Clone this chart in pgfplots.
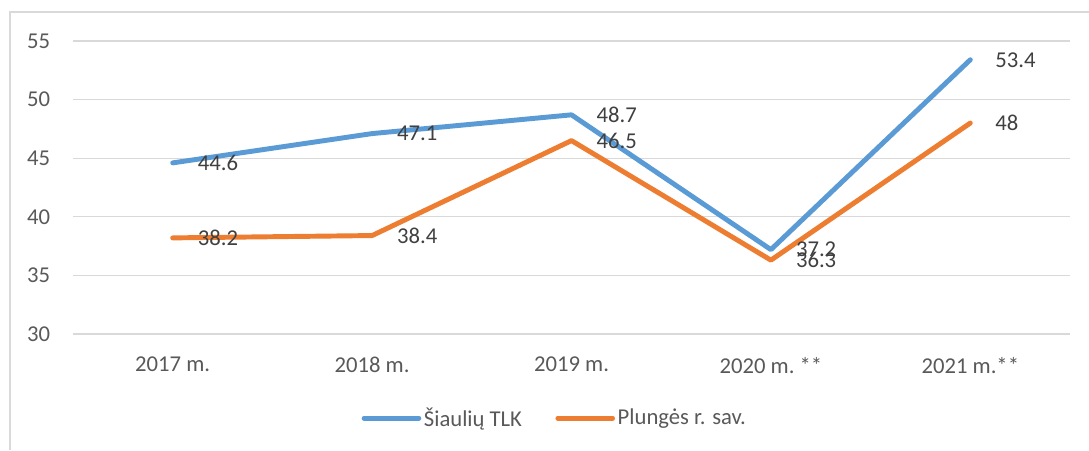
\documentclass[border=0pt]{standalone}
\usepackage{pgfplots}
\pgfplotsset{compat=1.18}
\usepackage{fontspec}
\setmainfont{Carlito}
\definecolor{sblue}{HTML}{5B9BD5}
\definecolor{sorange}{HTML}{ED7D31}
\definecolor{gridc}{HTML}{D9D9D9}
\definecolor{txt}{HTML}{595959}
\definecolor{lbl}{HTML}{404040}
\begin{document}
\begin{tikzpicture}[font=\fontsize{17}{20}\selectfont]
\path[use as bounding box] (0,0) rectangle (816.75pt,337.5pt);
\draw[gridc, line width=0.9pt] (7.5pt,0pt) -- (7.5pt,328.5pt) -- (816.75pt,328.5pt);
\begin{axis}[
  at={(54.75pt,87pt)}, anchor=south west,
  scale only axis, width=747.75pt, height=219.75pt,
  xmin=-0.5, xmax=4.5, ymin=30, ymax=55,
  xtick={0,1,2,3,4},
  xticklabels={2017 m., 2018 m., 2019 m., {2020 m.\ **}, 2021 m.**},
  ytick={30,35,40,45,50,55},
  axis line style={draw=none},
  tick style={draw=none},
  ymajorgrids, grid style={gridc, line width=0.9pt},
  tick label style={text=txt, font=\fontsize{17}{20}\selectfont},
  /pgf/number format/assume math mode=true,
  yticklabel style={inner sep=0pt, anchor=east, xshift=-17pt},
  xticklabel style={inner sep=0pt, anchor=north, yshift=-17pt},
  clip=false,
  nodes near coords, point meta=explicit symbolic,
  every node near coord/.append style={anchor=west, inner sep=0pt, xshift=17pt, yshift=0pt, text=lbl, font=\fontsize{17}{20}\selectfont},
  legend style={draw=none, fill=none, at={(0.4835,-0.287)}, anchor=center,
    legend columns=2, font=\fontsize{17}{20}\selectfont, text=txt,
    /tikz/every even column/.append style={column sep=23pt},
    nodes={inner sep=2pt}},
  legend image code/.code={\draw[#1, line cap=round] (0pt,0pt) -- (41pt,0pt);},
]
\addplot[sblue, line width=3.7pt, line join=round, line cap=round] coordinates {
  (0,44.6) [44.6]
  (1,47.1) [47.1]
  (2,48.7) [48.7]
  (3,37.2) [37.2]
  (4,53.4) [53.4]
};
\addlegendentry{Šiaulių TLK}
\addplot[sorange, line width=3.7pt, line join=round, line cap=round] coordinates {
  (0,38.2) [38.2]
  (1,38.4) [38.4]
  (2,46.5) [46.5]
  (3,36.3) [36.3]
  (4,48) [48]
};
\addlegendentry{Plungės r. sav.}
\end{axis}
\end{tikzpicture}
\end{document}
